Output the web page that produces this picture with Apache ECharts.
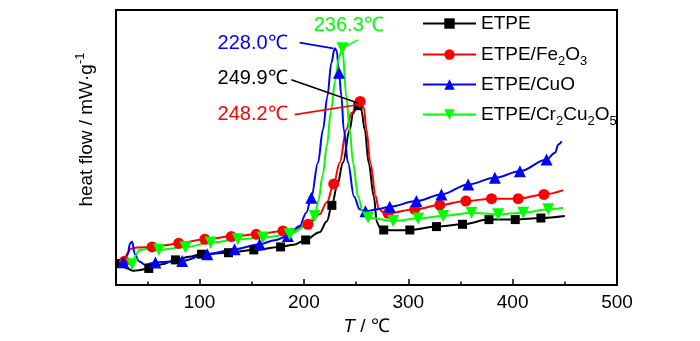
<!DOCTYPE html>
<html><head><meta charset="utf-8">
<script src="https://cdn.jsdelivr.net/npm/echarts@6/dist/echarts.min.js"></script>
<style>html,body{margin:0;padding:0;background:#fff}#c{width:700px;height:341px}</style>
</head><body><div id="c"></div>
<script>
const FONT = '"Liberation Sans", Arial, Helvetica, sans-serif';

// ---- data (T in °C, heat flow in relative units) ----
const seriesNames = ['ETPE', 'ETPE/Fe2O3', 'ETPE/CuO', 'ETPE/Cr2Cu2O5'];
const legendRich = {
  'ETPE': '{a|ETPE}',
  'ETPE/Fe2O3': '{a|ETPE/Fe}{b|2}{a|O}{b|3}',
  'ETPE/CuO': '{a|ETPE/CuO}',
  'ETPE/Cr2Cu2O5': '{a|ETPE/Cr}{b|2}{a|Cu}{b|2}{a|O}{b|5}'
};

const etpeT = [22, 25.2, 30, 36, 42, 51.4, 64, 77, 90, 101.9, 127.8, 152, 177.7, 190, 201.7, 215, 222, 226.8, 232, 237.5, 243.9, 247.1, 251.8, 255, 258.3, 262.1, 267, 270, 272.7, 276.5, 290, 301.5, 327, 352, 377.3, 402.5, 427.1, 450];
const etpeV = [21, 21.7, 17, 14.5, 15, 16.7, 21, 25.3, 28.5, 31, 32.5, 35.3, 38.3, 40.5, 45.3, 53, 64, 80, 100, 123, 156, 172.7, 180, 176, 156, 122.7, 89, 63, 58, 55.3, 55, 55.3, 58.7, 61, 65.7, 65.7, 67.3, 69.3];
const etpeMark = [0, 1, 0, 0, 0, 1, 0, 1, 0, 1, 1, 1, 1, 0, 1, 0, 0, 1, 0, 0, 0, 0, 1, 0, 0, 0, 0, 0, 0, 1, 0, 1, 1, 1, 1, 1, 1, 0];

const fe2o3T = [22, 28.1, 31, 34, 40, 54.6, 67, 80.1, 105.1, 130.4, 154.4, 179.9, 192, 203.9, 215, 222, 228.6, 234.3, 240.7, 245.5, 253.9, 257.5, 259.9, 263.7, 268.8, 271.5, 276, 280.6, 306.2, 330.2, 355.2, 379.8, 405.3, 430, 448.5];
const fe2o3V = [20, 24, 32, 36.5, 37.7, 38.3, 40, 42, 46, 48.7, 51, 54.3, 56.5, 61, 71, 83, 101.5, 122.7, 156, 172.7, 184.3, 178, 156, 122.7, 89.3, 77, 73, 72, 76, 80.3, 84.3, 86.7, 86.7, 91, 95.3];
const fe2o3Mark = [0, 1, 0, 0, 0, 1, 0, 1, 1, 1, 1, 1, 0, 1, 0, 0, 1, 0, 0, 0, 1, 0, 0, 0, 0, 0, 0, 1, 1, 1, 1, 1, 1, 1, 0];

const cuoT = [22, 27, 31, 33.5, 35.5, 38, 42, 48, 57.8, 70, 83.4, 107.4, 133.6, 157.6, 172, 184.7, 196, 202.3, 207.1, 213.5, 218.3, 222.5, 226.3, 229.5, 231.5, 233.6, 236, 238.2, 242.3, 248, 253.5, 259, 270, 282.3, 307.8, 331.8, 357.4, 383, 407, 432.5, 440.6, 443.8, 447];
const cuoV = [20, 23, 30, 42, 43.5, 31, 24, 20.5, 22.7, 23.5, 24.3, 31, 36, 41, 45, 49.3, 59.3, 72.7, 87.7, 122.7, 156, 189.3, 222.7, 237.7, 235, 213, 189, 156, 122.7, 89, 76, 74, 76, 78.7, 84.3, 91, 101, 107.7, 114.3, 126, 132.7, 141, 144.3];
const cuoMark = [0, 1, 0, 0, 0, 0, 0, 0, 1, 0, 1, 1, 1, 1, 0, 1, 0, 0, 1, 0, 0, 0, 0, 0, 0, 1, 0, 0, 0, 0, 0, 1, 0, 1, 1, 1, 1, 1, 1, 1, 0, 0, 0];

const cr2cu2o5T = [22, 29, 35.4, 39, 42, 50, 61.1, 86.5, 110.6, 136.7, 160.7, 186.3, 202.3, 210.3, 214, 218, 222, 226, 230, 233.5, 236.9, 240.7, 243.9, 247.1, 251.9, 256.4, 261.5, 285.5, 309.4, 333.4, 360.6, 386.1, 410.1, 434.1, 448.5];
const cr2cu2o5V = [25, 22, 21, 30, 35, 36.5, 35.5, 38, 42.7, 46, 47.7, 51, 59.3, 69.3, 85, 110, 140, 175, 205, 228, 237.7, 189, 156, 122.7, 89, 74, 67.7, 64.3, 66.7, 69.3, 72.7, 71, 72.7, 76, 77.7];
const cr2cu2o5Mark = [0, 0, 1, 0, 0, 0, 1, 1, 1, 1, 1, 1, 0, 1, 0, 0, 0, 0, 0, 0, 1, 0, 0, 0, 0, 0, 1, 1, 1, 1, 1, 1, 1, 1, 0];

const xTickLabels = [100, 200, 300, 400, 500];
const xMinorTicks = [50, 150, 250, 350, 450];
const peakLabels = ['249.9℃', '248.2℃', '228.0℃', '236.3℃'];

// ---- annotation placement (data coordinates) ----
const annoTextAt = [[150.9, 207.7], [150.9, 171], [150.9, 242.7], [243, 260]];
const annoLine = [
  [[251.8, 182.7], [188, 206]],
  [[251.6, 181], [191.1, 171]],
  [[228.1, 237.5], [195.9, 243.3]],
  [[237.2, 238], [251.8, 246]]
];

const colors = ['#000000', '#ff0000', '#0000ff', '#00ff00'];
const symbols = ['rect', 'circle', 'triangle', 'triangle'];
const symbolRot = [0, 0, 0, 180];
const symbolSizes = [9, 11, 12, 12];

const allT = [etpeT, fe2o3T, cuoT, cr2cu2o5T];
const allV = [etpeV, fe2o3V, cuoV, cr2cu2o5V];
const allM = [etpeMark, fe2o3Mark, cuoMark, cr2cu2o5Mark];

function buildData(T, V, M) {
  return T.map((t, i) => M[i] ? { value: [t, V[i]] } : { value: [t, V[i]], symbol: 'none' });
}

const series = seriesNames.map((name, k) => ({
  name: name,
  type: 'line',
  data: buildData(allT[k], allV[k], allM[k]),
  smooth: 0.35,
  smoothMonotone: 'x',
  showSymbol: true,
  showAllSymbol: true,
  symbol: symbols[k],
  symbolRotate: symbolRot[k],
  symbolSize: symbolSizes[k],
  color: colors[k],
  lineStyle: { color: colors[k], width: 2 },
  itemStyle: { color: colors[k] },
  emphasis: { disabled: true },
  markLine: {
    silent: true,
    symbol: ['none', 'none'],
    label: { show: false },
    lineStyle: { color: colors[k], width: 1.6, type: 'solid' },
    data: [[{ coord: annoLine[k][0] }, { coord: annoLine[k][1] }]]
  },
  markPoint: {
    silent: true,
    symbol: 'circle',
    symbolSize: 0,
    itemStyle: { color: 'transparent' },
    label: {
      show: true, position: 'inside', formatter: peakLabels[k],
      color: colors[k], fontSize: 20, fontFamily: FONT
    },
    data: [{ coord: annoTextAt[k] }]
  }
}));

const legendTops = [14, 45, 75, 105];
const legends = seriesNames.map((name, k) => ({
  data: [name],
  left: 422,
  top: legendTops[k],
  padding: 0,
  itemWidth: 53,
  itemHeight: 13,
  selectedMode: false,
  formatter: n => legendRich[n],
  textStyle: {
    color: '#000', fontFamily: FONT, fontSize: 19,
    rich: {
      a: { fontSize: 19, lineHeight: 26, fontFamily: FONT, color: '#000' },
      b: { fontSize: 13, lineHeight: 10, verticalAlign: 'bottom', fontFamily: FONT, color: '#000' }
    }
  }
}));

const chart = echarts.init(document.getElementById('c'));
chart.setOption({
  animation: false,
  backgroundColor: '#fff',
  grid: { left: 116, right: 83, top: 10, bottom: 55, show: true, borderColor: '#000', borderWidth: 2, backgroundColor: 'transparent' },
  legend: legends,
  xAxis: [{
    type: 'value', min: 20, max: 500,
    axisLine: { show: false },
    axisTick: { show: true, inside: true, length: 6, lineStyle: { color: '#000', width: 1.5 }, customValues: xTickLabels },
    axisLabel: { show: true, customValues: xTickLabels, color: '#000', fontSize: 19, fontFamily: FONT, margin: 8 },
    splitLine: { show: false },
    name: '{i|T}{n| / ℃}',
    nameLocation: 'middle',
    nameGap: 28,
    nameTextStyle: {
      color: '#000', fontSize: 19, fontFamily: FONT,
      rich: {
        i: { fontStyle: 'italic', fontSize: 19, fontFamily: FONT, color: '#000' },
        n: { fontSize: 19, fontFamily: FONT, color: '#000' }
      }
    }
  }, {
    type: 'value', min: 20, max: 500, position: 'bottom', gridIndex: 0,
    axisLine: { show: false },
    axisTick: { show: true, inside: true, length: 3.5, lineStyle: { color: '#000', width: 1.5 }, customValues: xMinorTicks },
    axisLabel: { show: false },
    splitLine: { show: false }
  }],
  yAxis: {
    type: 'value', min: 0, max: 276,
    axisLine: { show: false }, axisTick: { show: false }, axisLabel: { show: false }, splitLine: { show: false },
    name: '{a|heat flow / mW·g}{s|-1}',
    nameLocation: 'middle',
    nameRotate: 90,
    nameGap: 16,
    nameTextStyle: {
      color: '#000', fontSize: 19, fontFamily: FONT,
      padding: [0, 0, 0, 36],
      rich: {
        a: { fontSize: 19, lineHeight: 26, fontFamily: FONT, color: '#000' },
        s: { fontSize: 13, lineHeight: 12, verticalAlign: 'top', fontFamily: FONT, color: '#000' }
      }
    }
  },
  series: series
});
</script>
</body></html>
